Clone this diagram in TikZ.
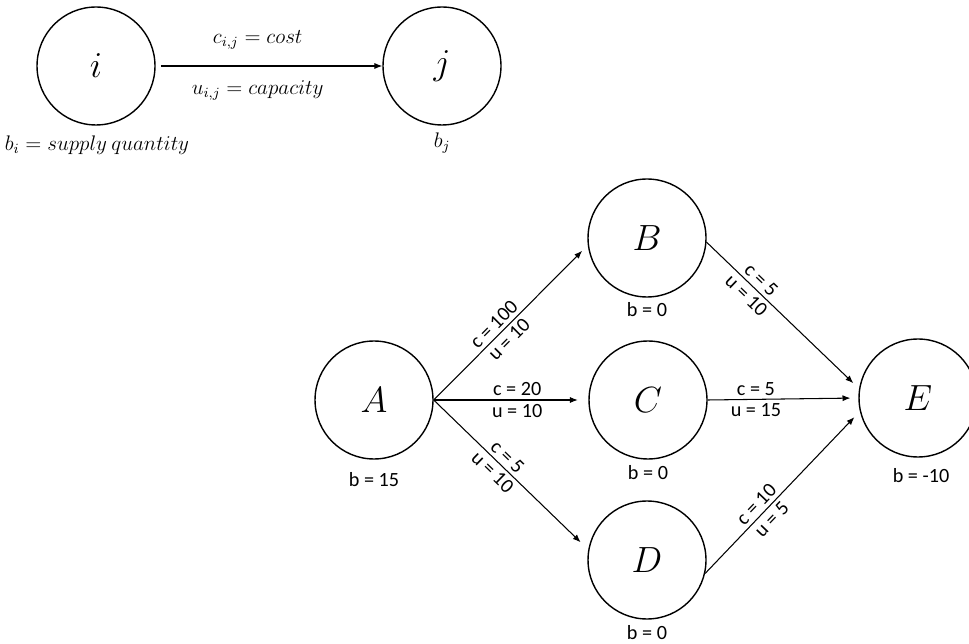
\documentclass[tikz,border=0pt]{standalone}
\usepackage{fontspec}
\setmainfont{Carlito}
\usepackage{amsmath}
\usetikzlibrary{arrows.meta}

\begin{document}
\begin{tikzpicture}[x=0.02cm, y=-0.02cm,
    vertex/.style={draw, circle, line width=0.8pt, minimum size=2.36cm, inner sep=0pt,
        font=\fontsize{21}{23}\selectfont},
    edge/.style={-{Latex[length=4.5pt,width=3.5pt]}, line width=0.6pt},
    lbl/.style={font=\fontsize{11.5}{13}\selectfont, inner sep=2pt}]
    \useasboundingbox (0,0) rectangle (969,644);

    % Legend
    \node[vertex] (i) at (96,66) {$i$};
    \node[vertex] (j) at (442,66) {$j$};
    \draw[edge, shorten <=3pt] (i) -- (j)
        node[lbl, pos=0.45, above=7pt] (cij) {$c_{i,j} = cost$}
        node[lbl, pos=0.45, below=6pt] (uij) {$u_{i,j} = capacity$};
    \node[lbl] (bi) at (97,145) {$b_i = supply\ quantity$};
    \node[lbl] (bj) at (442,143) {$b_j$};

    % Network nodes
    \node[vertex] (A) at (374,400) {$A$};
    \node[vertex] (B) at (647,238) {$B$};
    \node[vertex] (C) at (648,400) {$C$};
    \node[vertex] (D) at (647,560) {$D$};
    \node[vertex] (E) at (918,398) {$E$};

    % Supplies
    \node[lbl] (bA) at (374,480) {b = 15};
    \node[lbl] (bB) at (647,310) {b = 0};
    \node[lbl] (bC) at (648,473) {b = 0};
    \node[lbl] (bD) at (647,633) {b = 0};
    \node[lbl] (bE) at (921,476) {b = -10};

    % Arcs
    \draw[edge, shorten >=4.5pt] (A.east) -- (B.187)
        node[lbl, sloped, pos=0.44, above] (cAB) {c = 100}
        node[lbl, sloped, pos=0.44, below] (uAB) {u = 10};
    \draw[edge, shorten >=6pt] (A.east) -- (C.west)
        node[lbl, pos=0.54, above] (cAC) {c = 20}
        node[lbl, pos=0.54, below] (uAC) {u = 10};
    \draw[edge, shorten >=6pt] (A.east) -- (D.170)
        node[lbl, sloped, pos=0.43, above] (cAD) {c = 5}
        node[lbl, sloped, pos=0.43, below] (uAD) {u = 10};
    \draw[edge, shorten >=4.5pt] (B.-4) -- (E.171)
        node[lbl, sloped, pos=0.31, above] (cBE) {c = 5}
        node[lbl, sloped, pos=0.31, below] (uBE) {u = 10};
    \draw[edge, shorten >=4.5pt] (C.east) -- (E.west)
        node[lbl, pos=0.32, above] (cCE) {c = 5}
        node[lbl, pos=0.32, below] (uCE) {u = 15};
    \draw[edge, shorten >=4.5pt] (D.-13) -- (E.193)
        node[lbl, sloped, pos=0.38, above] (cDE) {c = 10}
        node[lbl, sloped, pos=0.38, below] (uDE) {u = 5};

\end{tikzpicture}
\end{document}
